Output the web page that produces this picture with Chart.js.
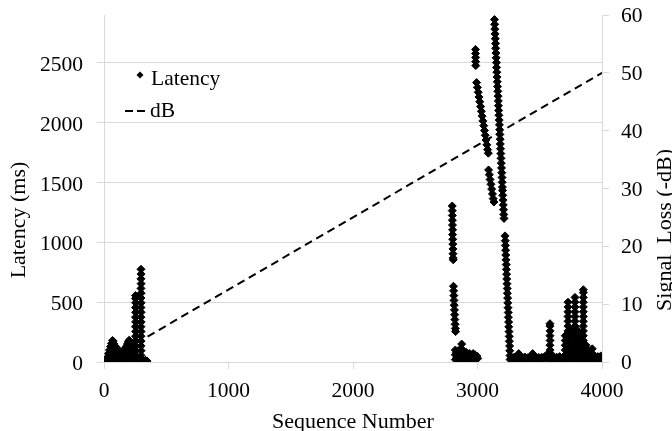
<!DOCTYPE html>
<html>
<head>
<meta charset="utf-8">
<script src="https://cdn.jsdelivr.net/npm/chart.js@4.4.1/dist/chart.umd.min.js"></script>
<style>
  html, body { margin: 0; padding: 0; background: #fff; }
  #wrap { width: 672px; height: 431px; }
</style>
</head>
<body>
<div id="wrap"><canvas id="latencyChart" width="672" height="431"></canvas></div>
<script>
const seqTicks = [0, 1000, 2000, 3000, 4000];
const latencyTicks = [0, 500, 1000, 1500, 2000, 2500];
const dbTicks = [0, 10, 20, 30, 40, 50, 60];

// [sequence number, latency ms]
const latencyPoints = [
  // start of run
  [0, 10], [12, 6], [25, 14], [38, 8],
  [28, 40], [36, 70], [44, 100], [52, 130], [60, 155], [68, 180], [74, 175], [80, 150], [86, 130],
  [94, 125], [102, 120], [110, 100], [118, 80], [126, 55], [134, 30],
  [40, 30], [50, 60], [58, 90], [66, 130], [70, 100], [62, 40], [76, 110], [84, 80], [78, 40],
  [92, 60], [100, 80], [108, 50], [96, 20], [116, 30], [88, 15], [54, 15],
  [136, 40], [146, 70], [156, 90], [164, 105], [172, 115], [180, 130], [188, 150], [196, 170],
  [202, 182], [210, 150], [218, 120], [226, 80], [234, 45],
  [150, 20], [162, 50], [170, 70], [178, 40], [186, 95], [194, 120], [200, 80], [206, 110],
  [212, 60], [220, 30], [196, 30], [228, 15], [168, 15], [240, 10],
  [253, 15], [253, 55], [254, 95], [253, 135], [254, 175], [253, 215], [254, 255], [253, 295],
  [254, 335], [253, 375], [254, 415], [253, 455], [254, 495], [253, 530], [253, 555],
  [297, 15], [297, 55], [298, 95], [297, 135], [298, 175], [297, 215], [298, 255], [297, 295],
  [298, 335], [297, 375], [298, 415], [297, 455], [298, 495], [297, 535], [298, 575], [297, 615],
  [298, 655], [297, 695], [298, 735], [297, 775],
  [265, 10], [275, 18], [285, 8], [310, 12], [322, 6], [334, 14], [346, 8],
  // first burst near 2800
  [2797, 1304], [2797, 1265], [2798, 1225], [2798, 1185], [2799, 1145], [2800, 1105], [2800, 1065],
  [2801, 1025], [2802, 985], [2803, 945], [2803, 905], [2804, 870], [2805, 854],
  [2807, 633], [2808, 595], [2810, 555], [2811, 515], [2813, 475], [2815, 435], [2816, 395],
  [2818, 355], [2820, 315], [2822, 280], [2824, 254],
  [2822, 100], [2822, 60], [2822, 20], [2830, 80], [2835, 40], [2840, 90], [2845, 20], [2850, 60],
  [2855, 100], [2860, 30], [2866, 110], [2873, 150], [2873, 110], [2873, 70], [2880, 40], [2885, 80],
  [2890, 20], [2898, 60], [2905, 30], [2912, 80], [2920, 50], [2928, 20], [2935, 70], [2942, 40],
  [2950, 60], [2958, 20], [2965, 70], [2972, 40], [2980, 60], [2988, 20], [2995, 50], [3002, 30],
  // high latency bursts
  [2984, 2612], [2984, 2578], [2985, 2545], [2985, 2510], [2986, 2477],
  [2993, 2335], [2999, 2295], [3006, 2255], [3012, 2215], [3018, 2175], [3025, 2135], [3031, 2095],
  [3037, 2055], [3043, 2015], [3050, 1975], [3056, 1935], [3062, 1895], [3068, 1855], [3075, 1815],
  [3081, 1775], [3087, 1745],
  [3089, 1605], [3095, 1565], [3101, 1525], [3108, 1485], [3114, 1445], [3120, 1405], [3126, 1365],
  [3132, 1337],
  [3136, 2862], [3138, 2822], [3139, 2782], [3141, 2742], [3143, 2702], [3145, 2662], [3146, 2622],
  [3148, 2582], [3150, 2542], [3152, 2502], [3153, 2462], [3155, 2422], [3157, 2382],
  [3159, 2342], [3161, 2302], [3163, 2262], [3165, 2222], [3167, 2182], [3168, 2142], [3170, 2102],
  [3172, 2062], [3174, 2022], [3176, 1982], [3178, 1942], [3180, 1902], [3182, 1862], [3183, 1822],
  [3185, 1782], [3187, 1742], [3189, 1702], [3191, 1662], [3193, 1622], [3195, 1582], [3197, 1542],
  [3198, 1502], [3200, 1462], [3201, 1433],
  [3203, 1393], [3205, 1353], [3207, 1313], [3209, 1273], [3211, 1233], [3213, 1200],
  [3221, 1054], [3223, 1014], [3224, 974], [3226, 934], [3227, 894], [3229, 854], [3231, 814],
  [3232, 774], [3234, 734], [3235, 694], [3237, 654], [3239, 614], [3240, 574], [3242, 534],
  [3243, 494], [3245, 454], [3247, 414], [3248, 374], [3250, 334], [3251, 294], [3253, 254],
  [3255, 214], [3256, 174], [3258, 134], [3259, 94], [3261, 54], [3262, 20],
  // tail of run
  [3270, 30], [3282, 12], [3294, 40], [3306, 18], [3318, 35], [3331, 70], [3331, 40], [3344, 15],
  [3356, 38], [3368, 20], [3380, 42], [3392, 14], [3404, 36], [3416, 22], [3428, 40], [3443, 70],
  [3443, 35], [3456, 15], [3468, 42], [3480, 20], [3492, 38], [3504, 14], [3516, 40], [3528, 24],
  [3540, 45], [3552, 30], [3562, 60], [3570, 40], [3576, 80],
  [3582, 20], [3582, 60], [3583, 100], [3582, 140], [3583, 180], [3582, 220], [3583, 260],
  [3582, 300], [3582, 320],
  [3594, 60], [3600, 30], [3612, 45], [3624, 18], [3636, 40], [3648, 22], [3660, 45], [3672, 20],
  [3684, 38], [3696, 50],
  [3705, 20], [3705, 60], [3705, 100], [3705, 140], [3705, 180], [3705, 220],
  [3727, 20], [3727, 60], [3727, 100], [3727, 140], [3727, 180], [3727, 220], [3727, 260],
  [3727, 300], [3727, 340], [3727, 380], [3727, 420], [3727, 460], [3727, 500],
  [3750, 20], [3750, 60], [3750, 100], [3750, 140], [3750, 180], [3750, 220], [3750, 260],
  [3783, 20], [3783, 60], [3783, 100], [3783, 140], [3783, 180], [3783, 220], [3783, 260],
  [3783, 300], [3783, 340], [3783, 380], [3783, 420], [3783, 460], [3783, 500], [3783, 540],
  [3810, 20], [3810, 60], [3810, 100], [3810, 140], [3810, 180], [3810, 220], [3810, 260],
  [3828, 20], [3828, 60], [3828, 100], [3828, 140], [3828, 180], [3828, 220],
  [3850, 20], [3850, 60], [3850, 100], [3850, 140], [3850, 180], [3850, 220], [3850, 260],
  [3850, 300], [3850, 340], [3850, 380], [3850, 420], [3850, 460], [3850, 500], [3850, 540],
  [3850, 580], [3850, 604],
  [3872, 20], [3872, 60], [3872, 100], [3872, 140],
  [3890, 20], [3890, 60], [3890, 100],
  [3905, 40], [3915, 20], [3922, 110], [3922, 70], [3930, 35], [3942, 50], [3954, 20], [3966, 45],
  [3978, 25], [3990, 50], [3998, 30]
];

// [sequence number, signal loss dB]
const dbPoints = [[350, 4.4], [4000, 50]];

const fontFamily = "'Liberation Serif', 'Times New Roman', serif";
const tickFont = { family: fontFamily, size: 21.5 };
const gridColor = "#d9d9d9";
const plainLabel = v => String(v);

const overlay = {
  id: "overlay",
  afterDraw(chart) {
    const ctx = chart.ctx;
    const sets = chart.data.datasets;
    ctx.save();
    ctx.fillStyle = "#000";
    ctx.strokeStyle = "#000";

    // legend
    ctx.font = "21.5px " + fontFamily;
    ctx.textBaseline = "alphabetic";
    ctx.textAlign = "left";
    ctx.beginPath();
    ctx.moveTo(140, 71.5);
    ctx.lineTo(143.5, 75);
    ctx.lineTo(140, 78.5);
    ctx.lineTo(136.5, 75);
    ctx.closePath();
    ctx.fill();
    ctx.fillText(sets[0].label, 151, 85);

    ctx.lineWidth = 2;
    ctx.setLineDash([8, 4]);
    ctx.beginPath();
    ctx.moveTo(125, 111);
    ctx.lineTo(146, 111);
    ctx.stroke();
    ctx.setLineDash([]);
    ctx.fillText(sets[1].label, 150, 117);

    // axis titles
    ctx.font = "22px " + fontFamily;
    ctx.textAlign = "center";
    ctx.fillText("Sequence Number", 353, 428);

    ctx.save();
    ctx.translate(25, 220);
    ctx.rotate(-Math.PI / 2);
    ctx.fillText("Latency (ms)", 0, 0);
    ctx.restore();

    ctx.save();
    ctx.translate(671, 230);
    ctx.rotate(-Math.PI / 2);
    ctx.fillText("Signal  Loss (-dB)", 0, 0);
    ctx.restore();

    ctx.restore();
  }
};

// fixed axis boxes so the plot area sits where it does in the figure
function fixWidth(w) {
  return s => { s.width = w; s.paddingTop = 0; s.paddingBottom = 0; };
}

new Chart(document.getElementById("latencyChart"), {
  type: "scatter",
  data: {
    datasets: [
      {
        label: "Latency",
        data: latencyPoints.map(p => ({ x: p[0], y: p[1] })),
        yAxisID: "y",
        pointStyle: "rectRot",
        pointRadius: 4,
        borderWidth: 1,
        backgroundColor: "#000",
        borderColor: "#000",
        showLine: false
      },
      {
        label: "dB",
        type: "line",
        data: dbPoints.map(p => ({ x: p[0], y: p[1] })),
        yAxisID: "y2",
        borderColor: "#000",
        borderWidth: 2,
        borderDash: [8, 5],
        pointRadius: 0,
        fill: false
      }
    ]
  },
  options: {
    responsive: false,
    animation: false,
    devicePixelRatio: 1,
    layout: { padding: { top: 15, left: 0, right: 0, bottom: 0 } },
    plugins: {
      legend: { display: false },
      tooltip: { enabled: false }
    },
    scales: {
      x: {
        type: "linear",
        min: 0,
        max: 4000,
        afterBuildTicks: s => { s.ticks = seqTicks.map(v => ({ value: v })); },
        afterFit: s => { s.height = 69; },
        grid: { drawOnChartArea: false, color: gridColor, tickLength: 7 },
        border: { color: gridColor },
        ticks: { font: tickFont, color: "#000", padding: 9, maxRotation: 0, callback: plainLabel }
      },
      y: {
        position: "left",
        min: 0,
        max: 2900,
        afterBuildTicks: s => { s.ticks = latencyTicks.map(v => ({ value: v })); },
        afterFit: fixWidth(104),
        grid: { color: gridColor, tickLength: 7 },
        border: { color: gridColor },
        ticks: { font: tickFont, color: "#000", padding: 14, labelOffset: 2.5, callback: plainLabel }
      },
      y2: {
        position: "right",
        min: 0,
        max: 60,
        afterBuildTicks: s => { s.ticks = dbTicks.map(v => ({ value: v })); },
        afterFit: fixWidth(70),
        grid: { drawOnChartArea: false, color: gridColor, tickLength: 7 },
        border: { color: gridColor },
        ticks: { font: tickFont, color: "#000", padding: 12, labelOffset: 1.5, callback: plainLabel }
      }
    }
  },
  plugins: [overlay]
});
</script>
</body>
</html>
